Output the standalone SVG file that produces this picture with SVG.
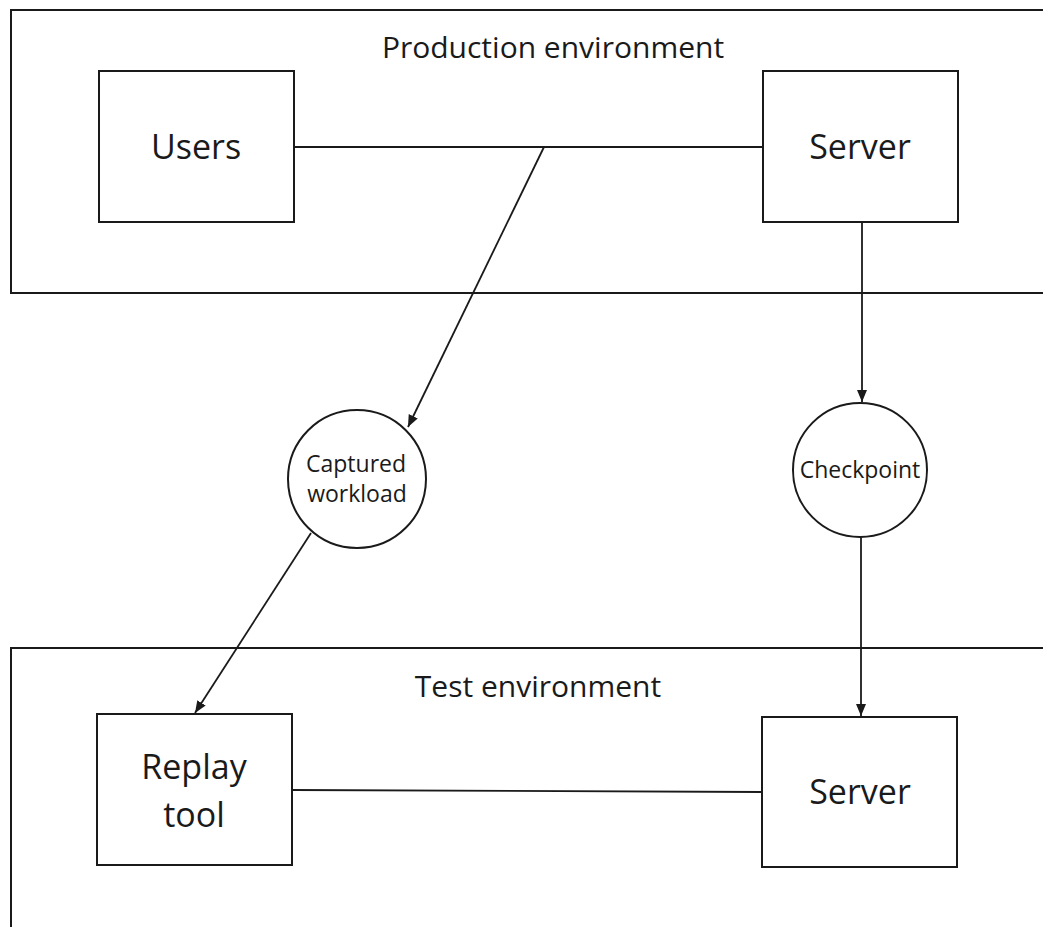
<svg xmlns="http://www.w3.org/2000/svg" width="1043" height="927" viewBox="0 0 1043 927">
  <style>
    .frame { fill: none; stroke: #1a1a1a; stroke-width: 2; }
    .box { fill: #fff; stroke: #1a1a1a; stroke-width: 2; }
    .wire { fill: none; stroke: #1a1a1a; stroke-width: 1.8; }
    .lbl { font-family: "Open Sans", "Noto Sans", sans-serif; fill: #1a1a1a; text-anchor: middle; }
    .title { font-size: 30px; }
    .big { font-size: 34px; }
    .small { font-size: 23px; }
  </style>
  <defs>
    <marker id="arrow" viewBox="0 0 12 12" refX="12" refY="6" markerWidth="12" markerHeight="12" markerUnits="userSpaceOnUse" orient="auto">
      <path d="M0,1 L12,6 L0,11 Z" fill="#1a1a1a"/>
    </marker>
  </defs>

  <rect width="1043" height="927" fill="#fff"/>

  <!-- environment frames -->
  <g id="production-environment">
    <rect class="frame" x="11" y="10" width="1050" height="283"/>
    <text class="lbl title" x="553" y="58">Production environment</text>
  </g>
  <g id="test-environment">
    <rect class="frame" x="11" y="648" width="1050" height="300"/>
    <text class="lbl title" x="538" y="697">Test environment</text>
  </g>

  <!-- connectors -->
  <g id="connectors">
    <line class="wire" x1="294" y1="147" x2="763" y2="147"/>
    <line class="wire" x1="544" y1="147" x2="408" y2="427" marker-end="url(#arrow)"/>
    <line class="wire" x1="862" y1="222" x2="862" y2="402" marker-end="url(#arrow)"/>
    <line class="wire" x1="311" y1="533" x2="195" y2="713" marker-end="url(#arrow)"/>
    <line class="wire" x1="861" y1="537" x2="861" y2="716" marker-end="url(#arrow)"/>
    <line class="wire" x1="292" y1="790" x2="762" y2="792"/>
  </g>

  <!-- nodes -->
  <g id="users">
    <rect class="box" x="99" y="71" width="195" height="151"/>
    <text class="lbl big" x="196" y="159">Users</text>
  </g>
  <g id="prod-server">
    <rect class="box" x="763" y="71" width="195" height="151"/>
    <text class="lbl big" x="860" y="159">Server</text>
  </g>
  <g id="captured-workload">
    <circle class="box" cx="357" cy="479" r="69"/>
    <text class="lbl small" x="356" y="472">Captured</text>
    <text class="lbl small" x="357" y="502">workload</text>
  </g>
  <g id="checkpoint">
    <circle class="box" cx="860" cy="470" r="67"/>
    <text class="lbl small" x="860" y="478">Checkpoint</text>
  </g>
  <g id="replay-tool">
    <rect class="box" x="97" y="714" width="195" height="151"/>
    <text class="lbl big" x="194" y="779">Replay</text>
    <text class="lbl big" x="194" y="827">tool</text>
  </g>
  <g id="test-server">
    <rect class="box" x="762" y="717" width="195" height="150"/>
    <text class="lbl big" x="860" y="804">Server</text>
  </g>
</svg>
